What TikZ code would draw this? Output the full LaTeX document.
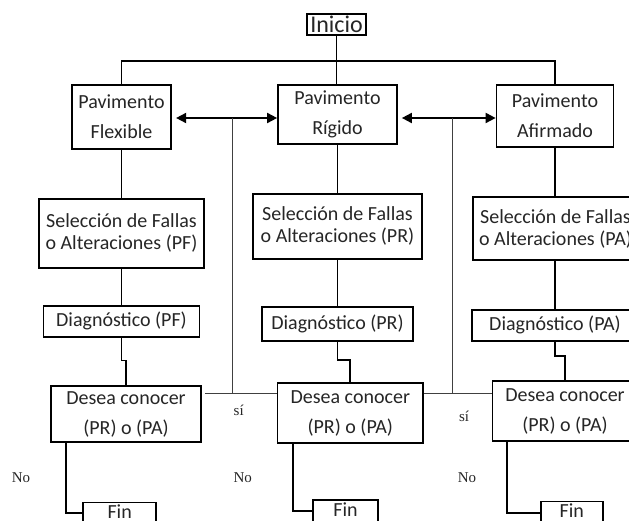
\documentclass[tikz,border=0pt]{standalone}
\usepackage{fontspec}
\setmainfont{Carlito}
\newfontfamily\serifnote{Liberation Serif}
\usetikzlibrary{arrows.meta}
\begin{document}
\begin{tikzpicture}[x=1pt,y=-1pt,
  box/.style={draw=black,line width=1.7pt,inner sep=0pt,align=center,
    text=black!85,font=\fontsize{20}{30}\selectfont},
  sbox/.style={box,font=\fontsize{20}{22}\selectfont},
  finbox/.style={box,anchor=north,minimum height=30pt,text height=13pt,text depth=11pt},
  conn/.style={draw=black,line width=1.8pt},
  thinl/.style={draw=black!75,line width=0.9pt},
  dbl/.style={conn,{Triangle[length=10pt,width=10pt]}-{Triangle[length=10pt,width=10pt]}},
  note/.style={font=\serifnote\fontsize{15}{15}\selectfont,text=black!85,inner sep=0pt}]
\useasboundingbox (0,0) rectangle (629,521);
\clip (0,0) rectangle (629,521);
\fill[white] (0,0) rectangle (629,521);
% nodes
\node[box,font=\fontsize{24}{24}\selectfont,minimum width=59pt,minimum height=21pt] (ini) at (336.5,24.5) {Inicio};
\node[box,minimum width=98.5pt,minimum height=64pt] (pf) at (121.5,117) {Pavimento\\Flexible};
\node[box,minimum width=119pt,minimum height=59pt] (pr) at (337.5,114.5) {Pavimento\\Rígido};
\node[box,minimum width=117pt,minimum height=62pt] (pa) at (555,116) {Pavimento\\Afirmado};
\node[sbox,minimum width=165pt,minimum height=69pt] (sf) at (121.5,233.35) {Selección de Fallas\\o Alteraciones (PF)};
\node[sbox,minimum width=169pt,minimum height=64.7pt] (sr) at (337.5,226.35) {Selección de Fallas\\o Alteraciones (PR)};
\node[sbox,minimum width=165pt,minimum height=63pt] (sa) at (555.5,228.5) {Selección de Fallas\\o Alteraciones (PA)};
\node[box,minimum width=156pt,minimum height=31.3pt] (df) at (121.5,321.35) {Diagnóstico (PF)};
\node[box,minimum width=151pt,minimum height=33.7pt] (dr) at (337.5,323.85) {Diagnóstico (PR)};
\node[box,minimum width=166pt,minimum height=30.7pt] (da) at (555,325.35) {Diagnóstico (PA)};
\node[box,minimum width=150pt,minimum height=56pt] (qf) at (126,414) {Desea conocer\\(PR) o (PA)};
\node[box,minimum width=145.4pt,minimum height=60pt] (qr) at (350.3,413) {Desea conocer\\(PR) o (PA)};
\node[box,minimum width=145pt,minimum height=60pt] (qa) at (565,411) {Desea conocer\\(PR) o (PA)};
\node[finbox,minimum width=72.7pt] (f1) at (119.65,501.7) {Fin};
\node[finbox,minimum width=65.6pt] (f2) at (345.5,499.3) {Fin};
\node[finbox,minimum width=62.3pt] (f3) at (571.85,500.7) {Fin};
% top bus
\coordinate (bus) at (336.5,61);
\draw[conn] (ini.south) -- (ini.south |- pr.north);
\draw[conn] (pf.north) |- (bus) -| (pa.north);
% columns
\draw[conn] (pf.south) -- (pf.south |- sf.north);
\draw[conn] (pr.south) -- (pr.south |- sr.north);
\draw[conn] (pa.south) -- (pa.south |- sa.north);
\draw[conn] (sf.south) -- (sf.south |- df.north);
\draw[conn] (sr.south) -- (sr.south |- dr.north);
\draw[conn] (pa.south |- sa.south) -- (pa.south |- da.north);
\draw[conn] (df.south) -- ++(0,22.6) -| (qf.north);
\draw[conn] (dr.south) -- ++(0,18.3) -| (qr.north);
\draw[conn] (da.south) -- ++(0,14.3) -| (qa.north);
% double arrows
\draw[dbl] ([xshift=4.5pt,yshift=-1pt]pf.east) -- ([yshift=-3.5pt]pr.west);
\draw[dbl] ([xshift=4pt,yshift=-3.5pt]pr.east) -- ([yshift=-2pt]pa.west);
% si lines
\coordinate (t1) at (232,118);
\coordinate (t2) at (452.5,118);
\draw[thinl] ([xshift=3.6pt,yshift=21pt]qf.east) -- ([yshift=20pt]qr.west);
\draw[thinl] ([yshift=20pt]qr.east) -- ([yshift=18pt]qa.west);
\draw[thinl] (t1) -- (t1 |- 0,393);
\draw[thinl] (t2) -- (t2 |- 0,393);
% no lines
\draw[conn] ([xshift=-60pt]qf.south) |- ([yshift=-11pt]f1.north west);
\draw[conn] ([xshift=-57.6pt]qr.south) |- ([yshift=-11.7pt]f2.north west);
\draw[conn] ([xshift=-58.4pt]qa.south) |- ([yshift=-12pt]f3.north west);
% labels
\node[note] (s1) at (238.7,410) {sí};
\node[note] (s2) at (464,416.7) {sí};
\node[note] (n1) at (21,477.5) {No};
\node[note] (n2) at (242.7,477.5) {No};
\node[note] (n3) at (467,478) {No};
\end{tikzpicture}
\end{document}
